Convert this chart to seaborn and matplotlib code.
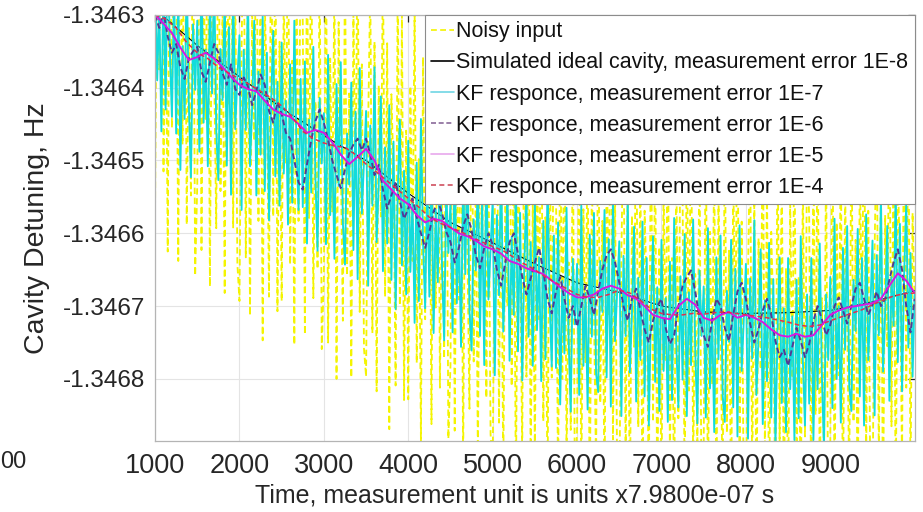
import numpy as np
import pandas as pd
import matplotlib
matplotlib.use("Agg")
import matplotlib.pyplot as plt
import seaborn as sns
from matplotlib.lines import Line2D

# ---------------- data ----------------
t_start, t_end = 1000, 10000

ideal = [-1.346292, -1.346342, -1.346385, -1.346428, -1.346466, -1.346500,
         -1.346545, -1.346585, -1.346613, -1.346642, -1.346668, -1.346681,
         -1.346700, -1.346708, -1.346710, -1.346709, -1.346706, -1.346694,
         -1.346679]

kf_1e4 = [-1.346300, -1.346306, -1.346318, -1.346338, -1.346352, -1.346360, -1.346372, -1.346380,
          -1.346388, -1.346396, -1.346405, -1.346414, -1.346425, -1.346440, -1.346460, -1.346470,
          -1.346476, -1.346480, -1.346482, -1.346492, -1.346505, -1.346516, -1.346528, -1.346540,
          -1.346552, -1.346564, -1.346578, -1.346586, -1.346592, -1.346598, -1.346605, -1.346612,
          -1.346618, -1.346624, -1.346633, -1.346642, -1.346650, -1.346660, -1.346668, -1.346676,
          -1.346684, -1.346688, -1.346688, -1.346684, -1.346678, -1.346682, -1.346692, -1.346704,
          -1.346710, -1.346712, -1.346712, -1.346710, -1.346711, -1.346709, -1.346708, -1.346710,
          -1.346712, -1.346714, -1.346716, -1.346719, -1.346722, -1.346726, -1.346728, -1.346726,
          -1.346720, -1.346715, -1.346710, -1.346705, -1.346698, -1.346692, -1.346686, -1.346683,
          -1.346682]

kf_1e5 = [-1.346300, -1.346312, -1.346325, -1.346345, -1.346362, -1.346358, -1.346352, -1.346360,
          -1.346372, -1.346385, -1.346396, -1.346402, -1.346405, -1.346418, -1.346430, -1.346436,
          -1.346440, -1.346450, -1.346462, -1.346458, -1.346462, -1.346475, -1.346492, -1.346505,
          -1.346495, -1.346484, -1.346500, -1.346528, -1.346540, -1.346552, -1.346560, -1.346575,
          -1.346585, -1.346580, -1.346583, -1.346592, -1.346600, -1.346604, -1.346610, -1.346618,
          -1.346622, -1.346628, -1.346638, -1.346642, -1.346648, -1.346652, -1.346656, -1.346665,
          -1.346674, -1.346682, -1.346688, -1.346688, -1.346684, -1.346676, -1.346672, -1.346676,
          -1.346685, -1.346690, -1.346700, -1.346712, -1.346716, -1.346718, -1.346700, -1.346690,
          -1.346698, -1.346716, -1.346720, -1.346712, -1.346708, -1.346716, -1.346712, -1.346716,
          -1.346722, -1.346732, -1.346740, -1.346742, -1.346738, -1.346742, -1.346740, -1.346726,
          -1.346712, -1.346706, -1.346702, -1.346700, -1.346698, -1.346696, -1.346690, -1.346672,
          -1.346655, -1.346665, -1.346682]

kf_1e6 = [-1.346300, -1.346318, -1.346296, -1.346330, -1.346352, -1.346340, -1.346372, -1.346388, -1.346360, -1.346350,
          -1.346344, -1.346378, -1.346392, -1.346366, -1.346340, -1.346352, -1.346380, -1.346396, -1.346368, -1.346402,
          -1.346410, -1.346386, -1.346398, -1.346424, -1.346404, -1.346382, -1.346396, -1.346432, -1.346448, -1.346420,
          -1.346436, -1.346462, -1.346470, -1.346500, -1.346530, -1.346540, -1.346505, -1.346472, -1.346446, -1.346430,
          -1.346448, -1.346472, -1.346500, -1.346520, -1.346538, -1.346512, -1.346490, -1.346478, -1.346470, -1.346486,
          -1.346470, -1.346492, -1.346520, -1.346506, -1.346540, -1.346566, -1.346548, -1.346530, -1.346556, -1.346580,
          -1.346566, -1.346552, -1.346578, -1.346600, -1.346620, -1.346598, -1.346570, -1.346556, -1.346572, -1.346598,
          -1.346612, -1.346640, -1.346620, -1.346590, -1.346574, -1.346596, -1.346630, -1.346648, -1.346620, -1.346600,
          -1.346616, -1.346650, -1.346672, -1.346640, -1.346612, -1.346600, -1.346628, -1.346660, -1.346684, -1.346662,
          -1.346640, -1.346620, -1.346652, -1.346690, -1.346710, -1.346680, -1.346660, -1.346690, -1.346716, -1.346700,
          -1.346728, -1.346700, -1.346672, -1.346690, -1.346712, -1.346680, -1.346650, -1.346630, -1.346622, -1.346640,
          -1.346668, -1.346700, -1.346720, -1.346690, -1.346676, -1.346706, -1.346732, -1.346750, -1.346720, -1.346700,
          -1.346690, -1.346730, -1.346752, -1.346740, -1.346700, -1.346672, -1.346660, -1.346651, -1.346680, -1.346716,
          -1.346740, -1.346756, -1.346720, -1.346690, -1.346700, -1.346730, -1.346748, -1.346712, -1.346680, -1.346668,
          -1.346690, -1.346724, -1.346750, -1.346732, -1.346706, -1.346690, -1.346712, -1.346748, -1.346770, -1.346760,
          -1.346782, -1.346756, -1.346730, -1.346748, -1.346770, -1.346752, -1.346720, -1.346700, -1.346718, -1.346740,
          -1.346726, -1.346700, -1.346688, -1.346706, -1.346724, -1.346700, -1.346676, -1.346668, -1.346690, -1.346712,
          -1.346698, -1.346680, -1.346700, -1.346690, -1.346664, -1.346640, -1.346622, -1.346650, -1.346700, -1.346736,
          -1.346690]

kf_1e7 = [-1.346210, -1.346390, -1.346290, -1.346460, -1.346240, -1.346430, -1.346180, -1.346350, -1.346440, -1.346260,
          -1.346463, -1.346263, -1.346513, -1.346343, -1.346443, -1.346243, -1.346423, -1.346523, -1.346313, -1.346403,
          -1.346308, -1.346488, -1.346228, -1.346448, -1.346348, -1.346508, -1.346268, -1.346408, -1.346238, -1.346458,
          -1.346527, -1.346347, -1.346417, -1.346277, -1.346507, -1.346317, -1.346547, -1.346257, -1.346457, -1.346387,
          -1.346328, -1.346568, -1.346348, -1.346458, -1.346268, -1.346508, -1.346428, -1.346308, -1.346548, -1.346378,
          -1.346492, -1.346302, -1.346542, -1.346352, -1.346582, -1.346422, -1.346322, -1.346522, -1.346392, -1.346562,
          -1.346338, -1.346518, -1.346418, -1.346588, -1.346368, -1.346558, -1.346308, -1.346478, -1.346568, -1.346388,
          -1.346564, -1.346364, -1.346614, -1.346444, -1.346544, -1.346344, -1.346524, -1.346624, -1.346414, -1.346504,
          -1.346435, -1.346615, -1.346355, -1.346575, -1.346475, -1.346635, -1.346395, -1.346535, -1.346365, -1.346585,
          -1.346643, -1.346463, -1.346533, -1.346393, -1.346623, -1.346433, -1.346663, -1.346373, -1.346573, -1.346503,
          -1.346432, -1.346672, -1.346452, -1.346562, -1.346372, -1.346612, -1.346532, -1.346412, -1.346652, -1.346482,
          -1.346614, -1.346424, -1.346664, -1.346474, -1.346704, -1.346544, -1.346444, -1.346644, -1.346514, -1.346684,
          -1.346473, -1.346653, -1.346553, -1.346723, -1.346503, -1.346693, -1.346443, -1.346613, -1.346703, -1.346523,
          -1.346687, -1.346487, -1.346737, -1.346567, -1.346667, -1.346467, -1.346647, -1.346747, -1.346537, -1.346627,
          -1.346556, -1.346736, -1.346476, -1.346696, -1.346596, -1.346756, -1.346516, -1.346656, -1.346486, -1.346706,
          -1.346761, -1.346581, -1.346651, -1.346511, -1.346741, -1.346551, -1.346781, -1.346491, -1.346691, -1.346621,
          -1.346555, -1.346795, -1.346575, -1.346685, -1.346495, -1.346735, -1.346655, -1.346535, -1.346775, -1.346605,
          -1.346712, -1.346522, -1.346762, -1.346572, -1.346802, -1.346642, -1.346542, -1.346742, -1.346612, -1.346782,
          -1.346553, -1.346733, -1.346633, -1.346803, -1.346583, -1.346773, -1.346523, -1.346693, -1.346783, -1.346603,
          -1.346785, -1.346585, -1.346835, -1.346665, -1.346765, -1.346565, -1.346745, -1.346845, -1.346635, -1.346725,
          -1.346642, -1.346822, -1.346562, -1.346782, -1.346682, -1.346842, -1.346602, -1.346742, -1.346572, -1.346792,
          -1.346818, -1.346638, -1.346708, -1.346568, -1.346798, -1.346608, -1.346838, -1.346548, -1.346748, -1.346678,
          -1.346611, -1.346851, -1.346631, -1.346741, -1.346551, -1.346791, -1.346711, -1.346591, -1.346831, -1.346661,
          -1.346774, -1.346584, -1.346824, -1.346634, -1.346864, -1.346704, -1.346604, -1.346804, -1.346674, -1.346844,
          -1.346609, -1.346789, -1.346689, -1.346859, -1.346639, -1.346829, -1.346579, -1.346749, -1.346839, -1.346659,
          -1.346801, -1.346601, -1.346851, -1.346681, -1.346781, -1.346581, -1.346761, -1.346861, -1.346651, -1.346741,
          -1.346673, -1.346853, -1.346593, -1.346813, -1.346713, -1.346873, -1.346633, -1.346773, -1.346603, -1.346823,
          -1.346859, -1.346679, -1.346749, -1.346609, -1.346839, -1.346649, -1.346879, -1.346589, -1.346789, -1.346719,
          -1.346642, -1.346882, -1.346662, -1.346772, -1.346582, -1.346822, -1.346742, -1.346622, -1.346862, -1.346692,
          -1.346803, -1.346613, -1.346853, -1.346663, -1.346893, -1.346733, -1.346633, -1.346833, -1.346703, -1.346873,
          -1.346634, -1.346814, -1.346714, -1.346884, -1.346664, -1.346854, -1.346604, -1.346774, -1.346864, -1.346684,
          -1.346834, -1.346634, -1.346884, -1.346714, -1.346814, -1.346614, -1.346794, -1.346894, -1.346684, -1.346774,
          -1.346660, -1.346840, -1.346580, -1.346800, -1.346700, -1.346860, -1.346620, -1.346760, -1.346590, -1.346810,
          -1.346844, -1.346664, -1.346734, -1.346594, -1.346824, -1.346634, -1.346864, -1.346574, -1.346774, -1.346704,
          -1.346610, -1.346850, -1.346630, -1.346740, -1.346550, -1.346790, -1.346710, -1.346590, -1.346830, -1.346660,
          -1.346727, -1.346537, -1.346777, -1.346587, -1.346817, -1.346657, -1.346557, -1.346757, -1.346627, -1.346797,
          -1.346680]

noisy = [-1.346565, -1.346135, -1.346375, -1.346025, -1.346515, -1.346235, -1.346625, -1.346095, -1.346455, -1.346055,
         -1.346208, -1.346638, -1.346098, -1.346478, -1.346048, -1.346588, -1.346318, -1.346548, -1.346118, -1.346658,
         -1.346533, -1.346053, -1.346623, -1.346233, -1.346443, -1.346123, -1.346673, -1.346183, -1.346373, -1.346593,
         -1.346102, -1.346542, -1.346292, -1.346682, -1.346182, -1.346422, -1.346062, -1.346592, -1.346252, -1.346642,
         -1.346693, -1.346343, -1.346153, -1.346633, -1.346233, -1.346713, -1.346293, -1.346473, -1.346113, -1.346583,
         -1.346217, -1.346747, -1.346287, -1.346397, -1.346687, -1.346127, -1.346577, -1.346177, -1.346707, -1.346337,
         -1.346693, -1.346263, -1.346503, -1.346153, -1.346643, -1.346363, -1.346753, -1.346223, -1.346583, -1.346183,
         -1.346309, -1.346739, -1.346199, -1.346579, -1.346149, -1.346689, -1.346419, -1.346649, -1.346219, -1.346759,
         -1.346660, -1.346180, -1.346750, -1.346360, -1.346570, -1.346250, -1.346800, -1.346310, -1.346500, -1.346720,
         -1.346218, -1.346658, -1.346408, -1.346798, -1.346298, -1.346538, -1.346178, -1.346708, -1.346368, -1.346758,
         -1.346797, -1.346447, -1.346257, -1.346737, -1.346337, -1.346817, -1.346397, -1.346577, -1.346217, -1.346687,
         -1.346339, -1.346869, -1.346409, -1.346519, -1.346809, -1.346249, -1.346699, -1.346299, -1.346829, -1.346459,
         -1.346828, -1.346398, -1.346638, -1.346288, -1.346778, -1.346498, -1.346888, -1.346358, -1.346718, -1.346318,
         -1.346432, -1.346862, -1.346322, -1.346702, -1.346272, -1.346812, -1.346542, -1.346772, -1.346342, -1.346882,
         -1.346781, -1.346301, -1.346871, -1.346481, -1.346691, -1.346371, -1.346921, -1.346431, -1.346621, -1.346841,
         -1.346336, -1.346776, -1.346526, -1.346916, -1.346416, -1.346656, -1.346296, -1.346826, -1.346486, -1.346876,
         -1.346920, -1.346570, -1.346380, -1.346860, -1.346460, -1.346940, -1.346520, -1.346700, -1.346340, -1.346810,
         -1.346437, -1.346967, -1.346507, -1.346617, -1.346907, -1.346347, -1.346797, -1.346397, -1.346927, -1.346557,
         -1.346908, -1.346478, -1.346718, -1.346368, -1.346858, -1.346578, -1.346968, -1.346438, -1.346798, -1.346398,
         -1.346530, -1.346960, -1.346420, -1.346800, -1.346370, -1.346910, -1.346640, -1.346870, -1.346440, -1.346980,
         -1.346867, -1.346387, -1.346957, -1.346567, -1.346777, -1.346457, -1.346999, -1.346517, -1.346707, -1.346927,
         -1.346393, -1.346833, -1.346583, -1.346973, -1.346473, -1.346713, -1.346353, -1.346883, -1.346543, -1.346933,
         -1.346976, -1.346626, -1.346436, -1.346916, -1.346516, -1.346996, -1.346576, -1.346756, -1.346396, -1.346866,
         -1.346499, -1.346999, -1.346569, -1.346679, -1.346969, -1.346409, -1.346859, -1.346459, -1.346989, -1.346619,
         -1.346964, -1.346534, -1.346774, -1.346424, -1.346914, -1.346634, -1.346999, -1.346494, -1.346854, -1.346454,
         -1.346546, -1.346976, -1.346436, -1.346816, -1.346386, -1.346926, -1.346656, -1.346886, -1.346456, -1.346996,
         -1.346898, -1.346418, -1.346988, -1.346598, -1.346808, -1.346488, -1.346999, -1.346548, -1.346738, -1.346958,
         -1.346434, -1.346874, -1.346624, -1.346999, -1.346514, -1.346754, -1.346394, -1.346924, -1.346584, -1.346974,
         -1.346999, -1.346657, -1.346467, -1.346947, -1.346547, -1.346999, -1.346607, -1.346787, -1.346427, -1.346897,
         -1.346528, -1.346999, -1.346598, -1.346708, -1.346998, -1.346438, -1.346888, -1.346488, -1.346999, -1.346648,
         -1.346989, -1.346559, -1.346799, -1.346449, -1.346939, -1.346659, -1.346999, -1.346519, -1.346879, -1.346479,
         -1.346579, -1.346999, -1.346469, -1.346849, -1.346419, -1.346959, -1.346689, -1.346919, -1.346489, -1.346999,
         -1.346885, -1.346405, -1.346975, -1.346585, -1.346795, -1.346475, -1.346999, -1.346535, -1.346725, -1.346945,
         -1.346419, -1.346859, -1.346609, -1.346999, -1.346499, -1.346739, -1.346379, -1.346909, -1.346569, -1.346959,
         -1.346975, -1.346625, -1.346435, -1.346915, -1.346515, -1.346995, -1.346575, -1.346755, -1.346395, -1.346865,
         -1.346452, -1.346982, -1.346522, -1.346632, -1.346922, -1.346362, -1.346812, -1.346412, -1.346942, -1.346572,
         -1.346700]

x_ticks = [1000, 2000, 3000, 4000, 5000, 6000, 7000, 8000, 9000]
y_ticks = [-1.3468, -1.3467, -1.3466, -1.3465, -1.3464, -1.3463]
y_tick_labels = ["-1.3468", "-1.3467", "-1.3466", "-1.3465", "-1.3464", "-1.3463"]

labels = ["Noisy input",
          "Simulated ideal cavity, measurement error 1E-8",
          "KF responce, measurement error 1E-7",
          "KF responce, measurement error 1E-6",
          "KF responce, measurement error 1E-5",
          "KF responce, measurement error 1E-4"]

series = [noisy, ideal, kf_1e7, kf_1e6, kf_1e5, kf_1e4]
styles = [dict(color="#f4f400", lw=1.3, ls=(0, (3.5, 2))),
          dict(color="#000000", lw=0.8, ls="-"),
          dict(color="#12dcdc", lw=1.35, ls="-"),
          dict(color="#523a94", lw=1.4, ls=(0, (3, 1.6))),
          dict(color="#d818e0", lw=1.4, ls="-"),
          dict(color="#e0304e", lw=1.1, ls=(0, (3, 2)))]
legend_colors = ["#f4f400", "#000000", "#6fd6e4", "#8a6a9a", "#e8a8ec", "#d05060"]

# ---------------- figure ----------------
sns.set_theme(style="white")
plt.rcParams["font.family"] = ["Liberation Sans", "DejaVu Sans"]

fig = plt.figure(figsize=(9.23, 5.12), dpi=100)
ax = fig.add_axes([0.168, 0.139, 0.823, 0.832])

for vals, st in zip(series, styles):
    df = pd.DataFrame({"t": np.linspace(t_start, t_end, len(vals)), "v": vals})
    sns.lineplot(data=df, x="t", y="v", ax=ax, color=st["color"], linewidth=st["lw"],
                 linestyle=st["ls"], estimator=None, sort=False, legend=False)

ax.set_xlim(1000, 10000)
ax.set_ylim(-1.346885, -1.3463)
ax.set_xticks(x_ticks)
ax.set_xticklabels([str(v) for v in x_ticks])
ax.set_yticks(y_ticks)
ax.set_yticklabels(y_tick_labels)

ax.grid(True, color="#e4e4e4", linewidth=0.8)
ax.set_axisbelow(True)
for s in ax.spines.values():
    s.set_color("#b4b4b4")
    s.set_linewidth(0.9)
ax.tick_params(axis="both", direction="in", length=5, width=0.9, color="#262626",
               labelcolor="#262626", top=True, right=True)
ax.tick_params(axis="x", labelsize=19.5, pad=9)
ax.tick_params(axis="y", labelsize=17.5, pad=7)

ax.set_xlabel("Time, measurement unit is units x7.9800e-07 s", fontsize=18, color="#262626")
ax.xaxis.set_label_coords((515 - 155) / 760, -0.1)
ax.set_ylabel("Cavity Detuning, Hz", fontsize=20.5, color="#262626", labelpad=9)

handles = [Line2D([], [], color=c, lw=1.2, ls=st["ls"]) for c, st in zip(legend_colors, styles)]
leg = ax.legend(handles, labels, loc="upper right", fontsize=15.5, frameon=True, fancybox=False,
                borderaxespad=0.0, handlelength=1.05, handletextpad=0.12, labelspacing=0.47,
                borderpad=0.3, framealpha=1.0)
leg.get_frame().set_edgecolor("#8c8c8c")
leg.get_frame().set_linewidth(0.8)
for txt in leg.get_texts():
    txt.set_color("#111111")

fig.text(0.0, 1 - 462 / 512, "00", fontsize=17, color="#262626", ha="left", va="center")

fig.savefig("out.png", dpi=100)
